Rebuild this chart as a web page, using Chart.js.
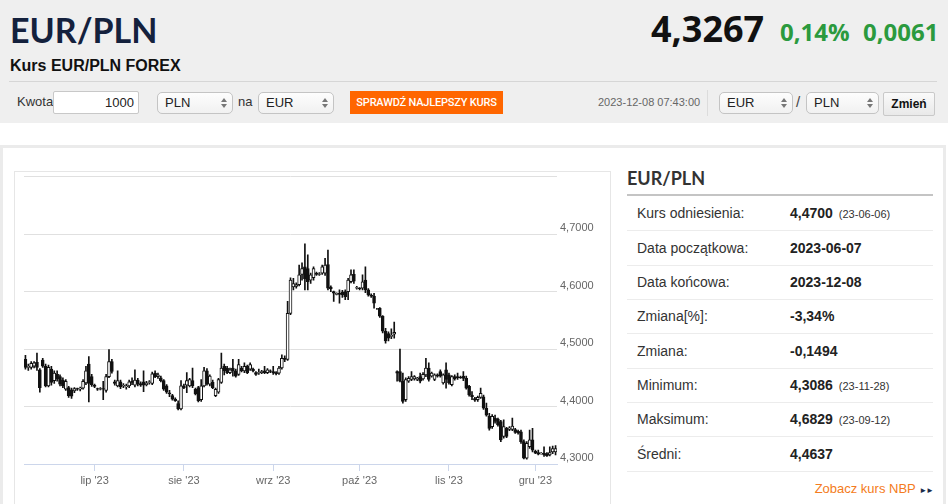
<!DOCTYPE html>
<html lang="pl">
<head>
<meta charset="utf-8">
<script src="https://cdn.jsdelivr.net/npm/chart.js@4.4.1/dist/chart.umd.min.js"></script>
<style>
  html,body{margin:0;padding:0;background:#fff;}
  body{width:948px;height:504px;position:relative;overflow:hidden;font-family:"Liberation Sans",Arial,sans-serif;color:#333;}
  .abs{position:absolute;white-space:nowrap;}
  .hdr{position:absolute;left:0;top:0;width:948px;height:123px;background:#efefef;}
  .sel{position:absolute;height:20px;border:1px solid #c4c4c4;border-radius:5px;background:linear-gradient(#fdfdfd,#f1f1f1);font-size:13px;line-height:20px;color:#222;box-sizing:content-box;}
  .sel span.t{position:absolute;left:7px;top:0;}
  .sel .ar{position:absolute;right:8px;top:5px;width:0;height:0;}
  .sel .ar:before{content:"";position:absolute;left:-3px;top:0;border-left:3px solid transparent;border-right:3px solid transparent;border-bottom:4px solid #777;}
  .sel .ar:after{content:"";position:absolute;left:-3px;top:6px;border-left:3px solid transparent;border-right:3px solid transparent;border-top:4px solid #777;}
  .row{position:absolute;left:627px;width:306px;height:34px;border-bottom:1px solid #ececec;font-size:14px;line-height:34px;}
  .row .l{position:absolute;left:10px;top:0;color:#333;}
  .row .v{position:absolute;left:163px;top:0;font-weight:bold;color:#222;}
  .row .d{font-size:11px;font-weight:normal;color:#333;margin-left:6px;}
</style>
</head>
<body>
<div class="hdr"></div>
<div class="abs" style="left:10px;top:8px;font:bold 34px/44px Lato,sans-serif;color:#14213d;">EUR/PLN</div>
<div class="abs" style="left:10px;top:56px;font:bold 16px/20px 'Liberation Sans',Arial,sans-serif;color:#111;">Kurs EUR/PLN FOREX</div>
<div class="abs" style="left:651px;top:7px;font:bold 36px/44px 'Open Sans',sans-serif;color:#111;">4,3267</div>
<div class="abs" style="left:780px;top:17px;font:bold 24px/30px 'Open Sans',sans-serif;color:#2b9a3e;">0,14%</div>
<div class="abs" style="left:863px;top:17px;font:bold 24px/30px 'Open Sans',sans-serif;color:#2b9a3e;">0,0061</div>
<div class="abs" style="left:9px;top:81px;width:928px;height:1px;background:#d6d6d6;"></div>

<div class="abs" style="left:17px;top:91px;font-size:13px;line-height:22px;color:#333;">Kwota</div>
<div class="abs" style="left:53px;top:91px;width:84px;height:21px;background:#fff;border:1px solid #c8c8c8;border-radius:2px;"><span class="abs" style="right:4px;top:0;font-size:13px;line-height:21px;color:#222;">1000</span></div>
<div class="sel" style="left:157px;top:92px;width:74px;"><span class="t">PLN</span><span class="ar"></span></div>
<div class="abs" style="left:238px;top:91px;font-size:13px;line-height:22px;color:#333;">na</div>
<div class="sel" style="left:258px;top:92px;width:74px;"><span class="t">EUR</span><span class="ar"></span></div>
<div class="abs" style="left:350px;top:91px;width:153px;height:23px;background:#ff6600;color:#fff;font:500 11px/23px Roboto,sans-serif;text-align:center;letter-spacing:-0.2px;">SPRAWDŹ NAJLEPSZY KURS</div>

<div class="abs" style="left:598px;top:91px;font-size:11px;line-height:22px;color:#666;">2023-12-08 07:43:00</div>
<div class="abs" style="left:707px;top:90px;width:1px;height:26px;background:#dcdcdc;"></div>
<div class="sel" style="left:719px;top:92px;width:72px;"><span class="t">EUR</span><span class="ar"></span></div>
<div class="abs" style="left:796px;top:91px;font-size:15px;line-height:22px;color:#444;">/</div>
<div class="sel" style="left:806px;top:92px;width:71px;"><span class="t">PLN</span><span class="ar"></span></div>
<div class="abs" style="left:883px;top:92px;width:50px;height:22px;border:1px solid #c9c9c9;border-radius:2px;background:linear-gradient(#fafafa,#e9e9e9);font:bold 12px/22px 'Liberation Sans',Arial,sans-serif;color:#111;text-align:center;">Zmień</div>

<div class="abs" style="left:0;top:145px;width:940px;height:370px;border:3px solid #ebebeb;border-bottom:none;"></div>
<div class="abs" style="left:14px;top:171px;width:595px;height:340px;border:1px solid #e6e6e6;"></div>
<div class="abs" style="left:15px;top:167px;width:594px;height:337px;"><canvas id="c"></canvas></div>

<div class="abs" style="left:627px;top:166px;font:bold 18px/24px Lato,sans-serif;color:#333;">EUR/PLN</div>
<div class="abs" style="left:627px;top:194px;width:306px;height:2px;background:#c4c4c4;"></div>
<div class="row" style="top:196px;"><span class="l">Kurs odniesienia:</span><span class="v">4,4700<span class="d">(23-06-06)</span></span></div>
<div class="row" style="top:231px;"><span class="l">Data początkowa:</span><span class="v">2023-06-07</span></div>
<div class="row" style="top:265px;"><span class="l">Data końcowa:</span><span class="v">2023-12-08</span></div>
<div class="row" style="top:299px;"><span class="l">Zmiana[%]:</span><span class="v">-3,34%</span></div>
<div class="row" style="top:334px;"><span class="l">Zmiana:</span><span class="v">-0,1494</span></div>
<div class="row" style="top:368px;"><span class="l">Minimum:</span><span class="v">4,3086<span class="d">(23-11-28)</span></span></div>
<div class="row" style="top:402px;"><span class="l">Maksimum:</span><span class="v">4,6829<span class="d">(23-09-12)</span></span></div>
<div class="row" style="top:437px;"><span class="l">Średni:</span><span class="v">4,4637</span></div>
<div class="abs" style="right:15px;top:481px;font-size:13px;line-height:16px;color:#f47b20;">Zobacz kurs NBP <span style="font-size:8px;color:#1a2a4a;letter-spacing:-1px;">►►</span></div>

<script>
// Daily EUR/PLN candles, 2023-06-07 (index 0) .. 2023-12-08 (index 184)
const openP = [
4.482,4.468,4.468,4.470,4.477,4.464,4.481,4.470,4.436,4.465,
4.445,4.456,4.452,4.446,4.430,4.433,4.429,4.427,4.431,4.430,
4.432,4.441,4.474,4.452,4.437,4.431,4.430,4.431,4.428,4.452,
4.478,4.443,4.436,4.443,4.436,4.434,4.436,4.444,4.437,4.446,
4.440,4.443,4.438,4.442,4.440,4.458,4.452,4.450,4.445,4.436,
4.424,4.419,4.413,4.405,4.396,4.436,4.437,4.436,4.445,4.430,
4.433,4.412,4.436,4.462,4.439,4.442,4.419,4.425,4.442,4.470,
4.467,4.459,4.467,4.462,4.456,4.467,4.462,4.470,4.465,4.465,
4.459,4.458,4.459,4.462,4.459,4.462,4.461,4.459,4.458,4.467,
4.484,4.482,4.562,4.608,4.609,4.612,4.630,4.643,4.640,4.620,
4.624,4.632,4.630,4.632,4.632,4.647,4.608,4.600,4.595,4.597,
4.599,4.600,4.600,4.617,4.630,4.606,4.606,4.606,4.620,4.603,
4.594,4.592,4.570,4.571,4.557,4.531,4.527,4.522,4.526,4.461,
4.461,4.444,4.412,4.444,4.447,4.448,4.447,4.452,4.448,4.455,
4.467,4.453,4.447,4.455,4.461,4.441,4.464,4.455,4.438,4.452,
4.452,4.451,4.453,4.449,4.435,4.420,4.414,4.412,4.416,4.417,
4.397,4.383,4.365,4.380,4.378,4.374,4.348,4.362,4.360,4.360,
4.360,4.357,4.356,4.339,4.310,4.330,4.342,4.322,4.320,4.318,
4.319,4.318,4.316,4.321,4.321];
const highP = [
4.489,4.474,4.478,4.478,4.493,4.466,4.484,4.474,4.472,4.470,
4.462,4.462,4.455,4.450,4.447,4.435,4.432,4.433,4.432,4.434,
4.447,4.470,4.487,4.456,4.439,4.432,4.433,4.444,4.456,4.499,
4.482,4.446,4.462,4.446,4.440,4.439,4.446,4.450,4.464,4.449,
4.443,4.462,4.444,4.445,4.460,4.462,4.458,4.453,4.447,4.438,
4.428,4.421,4.415,4.410,4.445,4.439,4.459,4.449,4.467,4.432,
4.435,4.447,4.468,4.466,4.455,4.446,4.432,4.449,4.493,4.474,
4.470,4.467,4.482,4.465,4.482,4.470,4.476,4.472,4.476,4.467,
4.461,4.465,4.463,4.470,4.466,4.464,4.470,4.461,4.470,4.490,
4.488,4.583,4.624,4.623,4.615,4.646,4.650,4.683,4.664,4.632,
4.643,4.634,4.633,4.646,4.658,4.672,4.610,4.601,4.598,4.603,
4.602,4.603,4.623,4.638,4.638,4.609,4.607,4.629,4.643,4.605,
4.596,4.597,4.571,4.572,4.558,4.536,4.530,4.535,4.547,4.462,
4.500,4.458,4.450,4.452,4.461,4.454,4.451,4.458,4.459,4.484,
4.476,4.460,4.457,4.457,4.464,4.457,4.476,4.458,4.454,4.455,
4.458,4.453,4.461,4.453,4.437,4.426,4.416,4.418,4.432,4.420,
4.406,4.388,4.386,4.385,4.380,4.376,4.377,4.364,4.365,4.380,
4.362,4.359,4.359,4.342,4.339,4.359,4.362,4.324,4.324,4.320,
4.330,4.320,4.330,4.331,4.332];
const lowP = [
4.465,4.463,4.465,4.467,4.463,4.425,4.468,4.434,4.434,4.437,
4.440,4.444,4.436,4.433,4.428,4.416,4.414,4.424,4.428,4.427,
4.430,4.438,4.408,4.435,4.433,4.428,4.429,4.412,4.425,4.450,
4.458,4.437,4.434,4.431,4.433,4.430,4.433,4.438,4.434,4.436,
4.435,4.426,4.436,4.439,4.438,4.450,4.449,4.443,4.428,4.423,
4.417,4.411,4.409,4.394,4.394,4.431,4.424,4.434,4.433,4.420,
4.408,4.409,4.434,4.437,4.436,4.431,4.417,4.423,4.440,4.455,
4.457,4.457,4.453,4.451,4.454,4.460,4.459,4.457,4.463,4.460,
4.454,4.456,4.457,4.457,4.457,4.459,4.456,4.455,4.456,4.465,
4.478,4.480,4.560,4.603,4.606,4.610,4.620,4.603,4.603,4.614,
4.620,4.628,4.628,4.630,4.628,4.603,4.600,4.583,4.594,4.580,
4.590,4.586,4.586,4.615,4.614,4.604,4.603,4.603,4.598,4.592,
4.590,4.571,4.569,4.555,4.528,4.510,4.514,4.518,4.519,4.444,
4.443,4.406,4.409,4.442,4.445,4.446,4.445,4.441,4.446,4.452,
4.444,4.451,4.445,4.451,4.451,4.439,4.432,4.439,4.436,4.446,
4.447,4.449,4.445,4.430,4.418,4.412,4.409,4.409,4.414,4.395,
4.383,4.359,4.362,4.371,4.366,4.339,4.345,4.346,4.358,4.358,
4.353,4.352,4.336,4.309,4.3086,4.327,4.321,4.318,4.316,4.317,
4.313,4.313,4.314,4.318,4.316];
const closeP = [
4.468,4.470,4.475,4.476,4.468,4.433,4.470,4.436,4.468,4.442,
4.458,4.448,4.439,4.436,4.444,4.419,4.418,4.431,4.430,4.432,
4.444,4.462,4.440,4.438,4.435,4.430,4.431,4.430,4.452,4.478,
4.461,4.440,4.445,4.434,4.437,4.436,4.443,4.442,4.446,4.439,
4.437,4.437,4.441,4.443,4.457,4.452,4.455,4.445,4.430,4.425,
4.422,4.413,4.410,4.396,4.436,4.433,4.445,4.447,4.436,4.422,
4.410,4.436,4.462,4.439,4.453,4.433,4.430,4.447,4.467,4.462,
4.459,4.464,4.462,4.453,4.473,4.462,4.470,4.459,4.473,4.462,
4.456,4.459,4.461,4.459,4.464,4.461,4.459,4.457,4.467,4.484,
4.482,4.562,4.620,4.614,4.612,4.629,4.640,4.622,4.617,4.629,
4.640,4.630,4.631,4.643,4.646,4.606,4.605,4.597,4.597,4.595,
4.594,4.591,4.620,4.629,4.618,4.607,4.605,4.617,4.603,4.594,
4.592,4.580,4.570,4.557,4.531,4.514,4.519,4.524,4.529,4.458,
4.444,4.409,4.447,4.449,4.452,4.452,4.449,4.444,4.456,4.467,
4.447,4.458,4.455,4.453,4.453,4.455,4.447,4.441,4.452,4.448,
4.450,4.450,4.449,4.432,4.420,4.417,4.411,4.416,4.423,4.397,
4.385,4.362,4.383,4.374,4.368,4.342,4.365,4.348,4.363,4.366,
4.355,4.354,4.339,4.310,4.336,4.342,4.324,4.319,4.317,4.319,
4.316,4.314,4.320,4.327,4.3267];

const monthTickDays = [24, 55, 86, 116, 147, 177];
const monthTickLabels = ["lip '23", "sie '23", "wrz '23", "paź '23", "lis '23", "gru '23"];
const yTickValues = [4.3, 4.4, 4.5, 4.6, 4.7, 4.8];

Chart.defaults.font.family = "'Liberation Sans', Arial, sans-serif";

const wickData = highP.map((h, i) => ({ x: i, y: [lowP[i], h] }));
const bodyData = openP.map((o, i) => ({ x: i, y: [Math.min(o, closeP[i]), Math.max(o, closeP[i])] }));
const bodyFill = openP.map((o, i) => closeP[i] >= o ? '#ffffff' : '#111111');

new Chart(document.getElementById('c'), {
  type: 'bar',
  data: {
    datasets: [
      { label: 'body', data: bodyData, backgroundColor: bodyFill, borderColor: '#111111', borderWidth: 1,
        borderSkipped: false, barThickness: 3, grouped: false, order: 0 },
      { label: 'wick', data: wickData, backgroundColor: '#111111', borderWidth: 0,
        barThickness: 1, grouped: false, order: 1 }
    ]
  },
  options: {
    responsive: true, maintainAspectRatio: false, animation: false,
    layout: { padding: { left: 9, top: 0, right: 0, bottom: 0 } },
    plugins: { legend: { display: false }, tooltip: { enabled: false } },
    scales: {
      x: {
        type: 'linear', min: -0.5, max: 184.5, offset: false,
        afterBuildTicks: s => { s.ticks = monthTickDays.map(v => ({ value: v })); },
        afterFit: s => { s.height = 40; },
        ticks: { autoSkip: false, maxRotation: 0, color: '#666', font: { size: 11 }, padding: 3,
                 callback: (v, i) => monthTickLabels[i] },
        grid: { offset: false, drawOnChartArea: false, drawTicks: true, tickLength: 7, color: '#ccd6eb' },
        border: { color: '#ccd6eb', width: 1 }
      },
      y: {
        position: 'right', min: 4.3, max: 4.8,
        afterBuildTicks: s => { s.ticks = yTickValues.map(v => ({ value: v })); },
        afterFit: s => { s.width = 52; },
        ticks: { color: '#666', font: { size: 11 }, padding: 3, labelOffset: -6,
                 callback: v => v >= 4.8 ? '' : v.toFixed(4).replace('.', ',') },
        grid: { drawTicks: false, color: c => (c.tick && c.tick.value <= 4.3) ? 'rgba(0,0,0,0)' : '#e0e0e0' },
        border: { display: false }
      }
    }
  }
});
</script>
</body>
</html>
